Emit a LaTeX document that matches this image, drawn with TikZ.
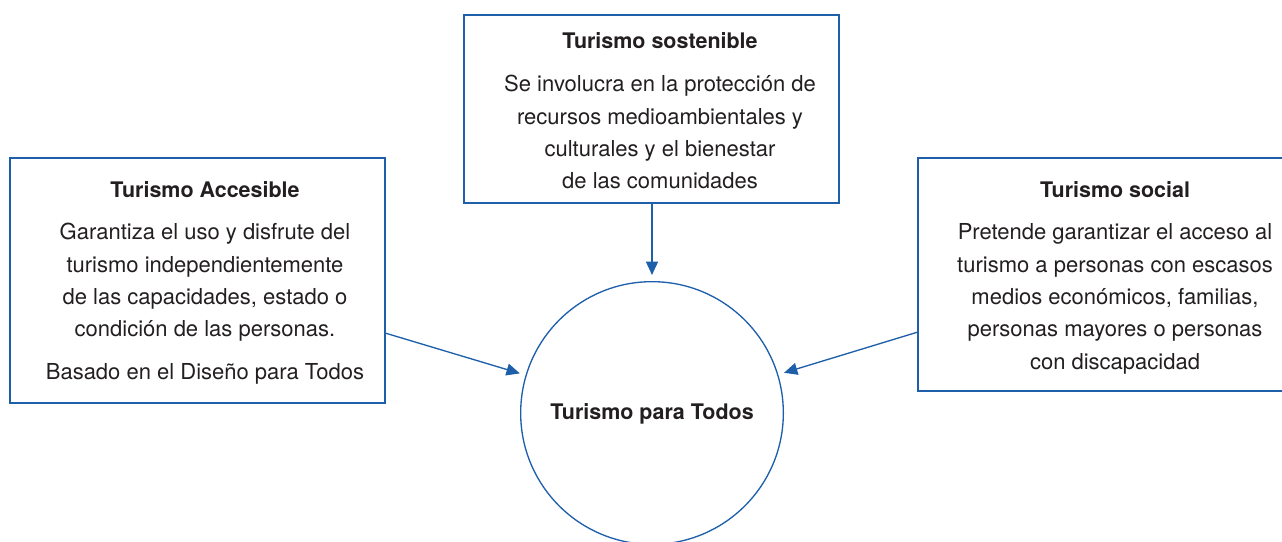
\documentclass[tikz,border=0pt]{standalone}
\usepackage{fontspec}
\setmainfont{TeX Gyre Heros}
\usetikzlibrary{arrows.meta}
\definecolor{lineblue}{RGB}{30,95,170}
\definecolor{txtgray}{RGB}{35,31,32}
\tikzset{
  box/.style={draw=lineblue, line width=1pt, inner sep=0pt, outer sep=0pt, rectangle},
  txt/.style={anchor=base, inner sep=0pt, text=txtgray, font=\fontsize{16.5}{19}\selectfont},
  ttl/.style={txt, font=\fontsize{16.1}{19}\selectfont\bfseries},
  arr/.style={draw=lineblue, line width=1pt, -{Triangle[length=10pt,width=9pt]}, shorten >=5pt},
}
\begin{document}
\begin{tikzpicture}[x=0.75pt,y=-0.75pt]
\useasboundingbox (0,0) rectangle (1282,542);
\clip (0,0) rectangle (1282,542);
% boxes
\node[box, minimum width=281.25pt, minimum height=183.75pt] (lb) at (197.5,280.5) {};
\node[box, minimum width=281.25pt, minimum height=141pt] (tb) at (651.5,109) {};
\node[box, minimum width=281.25pt, minimum height=174.75pt] (rb) at (1105.5,274.5) {};
\node[draw=lineblue, line width=1pt, circle, minimum size=197pt, inner sep=0pt, outer sep=0pt] (circ) at (652,413) {};
% top box text
\node[ttl] (t0) at (660,49) {Turismo sostenible};
\node[txt] (t1) at (660,91.5) {Se involucra en la protección de};
\node[txt] (t2) at (660,124) {recursos medioambientales y};
\node[txt] (t3) at (660,156.5) {culturales y el bienestar};
\node[txt] (t4) at (660,188.5) {de las comunidades};
% left box text
\node[ttl] (l0) at (205,197) {Turismo Accesible};
\node[txt] (l1) at (205,239.5) {Garantiza el uso y disfrute del};
\node[txt] (l2) at (205,272) {turismo independientemente};
\node[txt] (l3) at (205,304.5) {de las capacidades, estado o};
\node[txt] (l4) at (205,336.5) {condición de las personas.};
\node[txt] (l5) at (205,379.5) {Basado en el Diseño para Todos};
% right box text
\node[ttl] (r0) at (1115,197) {Turismo social};
\node[txt] (r1) at (1115,239.5) {Pretende garantizar el acceso al};
\node[txt] (r2) at (1115,272) {turismo a personas con escasos};
\node[txt] (r3) at (1115,304.5) {medios económicos, familias,};
\node[txt] (r4) at (1115,336.5) {personas mayores o personas};
\node[txt] (r5) at (1115,369.5) {con discapacidad};
% circle text
\node[ttl] (c0) at (652,419) {Turismo para Todos};
% connectors
\coordinate (la) at (385,333);
\coordinate (ra) at (918,332);
\draw[arr] (tb.south -| circ.north) -- (circ.north);
\draw[arr] (la) -- (circ);
\draw[arr] (ra) -- (circ);
\end{tikzpicture}
\end{document}
